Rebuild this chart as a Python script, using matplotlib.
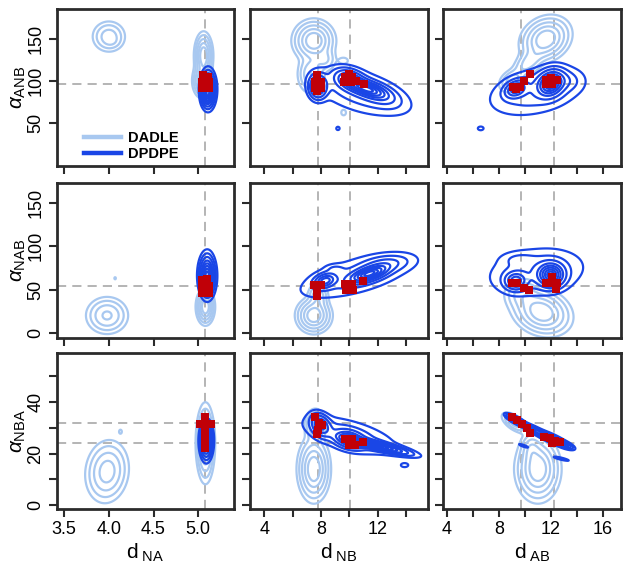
import numpy as np
import matplotlib
matplotlib.use("Agg")
import matplotlib.pyplot as plt
from matplotlib.lines import Line2D

plt.rcParams["font.family"] = ["Liberation Sans", "DejaVu Sans"]
plt.rcParams["mathtext.fontset"] = "custom"
plt.rcParams["mathtext.rm"] = "Liberation Sans"
plt.rcParams["mathtext.it"] = "Liberation Sans:italic"

LIGHT = "#a8c8f0"
DARK = "#1a46e6"
RED = "#c00008"
FRAME = "#2b2b2b"

# -----------------------------------------------------------------------
# axes: columns = distances, rows = angles
# -----------------------------------------------------------------------
x_names = ["NA", "NB", "AB"]
y_names = ["ANB", "NAB", "NBA"]
x_lims = [(3.42, 5.40), (3.0, 15.55), (3.7, 17.4)]
y_lims = [(-2, 186), (-6, 173), (-1.5, 59)]
x_ticks = [[3.5, 4.0, 4.5, 5.0], [4, 6, 8, 10, 12, 14], [4, 6, 8, 10, 12, 14, 16]]
x_ticklabels = [["3.5", "4.0", "4.5", "5.0"], ["4", "", "8", "", "12", ""],
                ["4", "", "8", "", "12", "", "16"]]
y_ticks = [[50, 100, 150], [0, 50, 100, 150], [0, 10, 20, 30, 40, 50]]
y_ticklabels = [["50", "100", "150"], ["0", "50", "100", "150"],
                ["0", "", "20", "", "40", ""]]

# reference (crystal) values
ref_x = [[5.08], [7.8, 10.05], [9.72, 12.25]]
ref_y = [[96.5], [54.5], [31.8, 24.1]]

# -----------------------------------------------------------------------
# density blobs: (cx, cy, sx, sy, rho, peak)
# -----------------------------------------------------------------------
dadle_00 = [(4.0, 153, 0.09, 9, 0, 0.3), (4.03, 147, 0.05, 4, 0, 0.06),
            (5.06, 130, 0.045, 12, 0, 0.8), (5.05, 100, 0.05, 9, 0, 0.7)]
dpdpe_00 = [(5.11, 90, 0.042, 11, 0, 1.0), (5.1, 80, 0.03, 6, 0, 0.3)]
dadle_01 = [(7.5, 148, 0.65, 11, 0, 1.0), (7.3, 108, 0.45, 11, 0, 0.45), (8.3, 125, 0.4, 7, 0, 0.25),
            (9.6, 124, 0.25, 3, 0, 0.1), (9.6, 62, 0.2, 4, 0, 0.07)]
dpdpe_01 = [(7.8, 93, 0.35, 8, 0, 0.8), (10.0, 102, 0.6, 7, -0.3, 0.6), (11.3, 90, 0.9, 7, -0.6, 1.0),
            (10.8, 87, 2.0, 17, -0.5, 0.2), (12.3, 78, 0.9, 8, -0.5, 0.12), (9.2, 43, 0.12, 2, 0, 0.08)]
dadle_02 = [(11.6, 150, 0.85, 12, 0.2, 1.0), (10.3, 122, 0.6, 9, 0.5, 0.35), (9.0, 100, 0.5, 7, 0.3, 0.35)]
dpdpe_02 = [(9.3, 90, 0.5, 6, 0.3, 0.6), (12.0, 97, 0.6, 9, 0.2, 1.0), (10.9, 88, 2.1, 17, 0.35, 0.2),
            (13.3, 100, 0.6, 7, 0, 0.1), (6.6, 43, 0.2, 2, 0, 0.08)]

dadle_10 = [(3.98, 20, 0.11, 10, 0, 0.5), (4.07, 63, 0.01, 1.5, 0, 0.07), (5.08, 30, 0.045, 9, 0, 1.0)]
dpdpe_10 = [(5.1, 66, 0.045, 12, 0, 1.0)]
dadle_11 = [(7.5, 20, 0.55, 9, 0, 1.0), (7.8, 42, 0.35, 8, 0, 0.4)]
dpdpe_11 = [(8.3, 60, 0.45, 5, 0.3, 0.6), (11.4, 68, 0.8, 6, 0.6, 1.0), (12.6, 80, 1.0, 6, 0.3, 0.2),
            (10.4, 65, 2.5, 16, 0.6, 0.15), (9.0, 74, 0.4, 3, 0, 0.08)]
dadle_12 = [(11.3, 24, 1.0, 12, -0.2, 1.0), (9.8, 45, 0.7, 9, 0, 0.3)]
dpdpe_12 = [(9.3, 60, 0.5, 6, 0, 0.6), (12.0, 67, 0.6, 8, 0, 1.0), (10.9, 70, 2.1, 16, 0.2, 0.2),
            (9.5, 85, 0.8, 5, 0, 0.08)]

dadle_20 = [(3.98, 13, 0.11, 5.5, 0.1, 0.6), (4.13, 28.5, 0.012, 0.6, 0, 0.1), (5.08, 24, 0.045, 6.5, 0, 1.0)]
dpdpe_20 = [(5.09, 25, 0.035, 3.5, 0, 1.0)]
dadle_21 = [(7.6, 31, 0.35, 3, 0, 0.5), (7.5, 14, 0.5, 5.5, 0, 1.0)]
dpdpe_21 = [(8.0, 31, 0.4, 2.5, -0.3, 0.5), (10.0, 25.5, 0.6, 2, -0.3, 0.6), (12.0, 23, 1.2, 1.8, -0.85, 0.9),
            (10.0, 27, 2.0, 4.5, -0.6, 0.15), (13.9, 15.5, 0.2, 0.6, 0, 0.08)]
dadle_22 = [(9.2, 32, 0.5, 2, -0.6, 0.35), (11.0, 14, 0.75, 5.5, 0, 1.0), (10.5, 22, 0.4, 3, 0, 0.3)]
dpdpe_22 = [(9.3, 33, 0.4, 1.2, -0.8, 0.6), (10.6, 29.5, 0.5, 1.3, -0.85, 0.6), (12.0, 26, 0.6, 1.5, -0.85, 1.0),
            (13.0, 23.5, 0.4, 1.0, -0.7, 0.4), (9.9, 23, 0.3, 0.6, -0.85, 0.08), (12.8, 18, 0.5, 0.7, -0.85, 0.08)]

# red squares: selected structures
red_00 = [(5.04, 91), (5.12, 91), (5.04, 99), (5.12, 99), (5.05, 107), (5.11, 104), (5.08, 95)]
red_01 = [(7.75, 107), (7.55, 99), (8.0, 99), (7.55, 91), (8.0, 91), (7.75, 88),
          (9.7, 104), (10.2, 104), (9.6, 98), (10.1, 98), (10.5, 100), (10.0, 108), (11.05, 96)]
red_02 = [(10.4, 108), (9.9, 100), (9.1, 93), (9.6, 93), (9.3, 90),
          (11.6, 96), (12.1, 96), (12.5, 101), (12.0, 103), (11.6, 101)]
red_10 = [(5.04, 46), (5.12, 46), (5.04, 54), (5.12, 54), (5.04, 61), (5.1, 62)]
red_11 = [(7.5, 55), (8.0, 55), (7.75, 48), (7.75, 42),
          (9.7, 56), (10.2, 56), (9.8, 50), (10.25, 50), (11.0, 60)]
red_12 = [(9.0, 57), (9.4, 57), (9.9, 52), (10.3, 50),
          (11.6, 58), (12.1, 58), (12.5, 58), (12.1, 64), (12.4, 51)]
red_20 = [(5.08, 22), (5.08, 25), (5.08, 28), (5.08, 31), (5.08, 34), (5.02, 31.5), (5.14, 31.5)]
red_21 = [(7.6, 34), (7.9, 32), (8.1, 31), (7.8, 29), (7.7, 27.5),
          (9.7, 25.5), (10.2, 25.5), (10.0, 23.5), (10.4, 23.5), (10.95, 24.5)]
red_22 = [(9.0, 34), (9.4, 33), (9.8, 31.5), (10.2, 30), (10.4, 28),
          (11.5, 26.5), (11.9, 26), (12.3, 25), (12.7, 24.5), (12.1, 24)]

dadle = [[dadle_00, dadle_01, dadle_02], [dadle_10, dadle_11, dadle_12], [dadle_20, dadle_21, dadle_22]]
dpdpe = [[dpdpe_00, dpdpe_01, dpdpe_02], [dpdpe_10, dpdpe_11, dpdpe_12], [dpdpe_20, dpdpe_21, dpdpe_22]]
red = [[red_00, red_01, red_02], [red_10, red_11, red_12], [red_20, red_21, red_22]]

light_levels = [0.05, 0.12, 0.25, 0.45, 0.7]
dark_levels = [0.04, 0.1, 0.2, 0.35, 0.5, 0.65, 0.8, 0.92]


def blob_field(X, Y, comps):
    Z = np.zeros_like(X)
    for cx, cy, sx, sy, rho, peak in comps:
        dx = (X - cx) / sx
        dy = (Y - cy) / sy
        q = (dx**2 - 2 * rho * dx * dy + dy**2) / (1 - rho**2)
        Z += peak * np.exp(-0.5 * q)
    return Z / Z.max()


W, H = 629, 567
fig = plt.figure(figsize=(W / 100, H / 100), dpi=100)

col_px = [(57, 234), (250, 428), (443, 621)]
row_px = [(9, 166), (183, 338), (353, 509)]

for r in range(3):
    for c in range(3):
        x0, x1 = col_px[c]
        y0, y1 = row_px[r]
        ax = fig.add_axes([x0 / W, 1 - y1 / H, (x1 - x0) / W, (y1 - y0) / H])
        ax.set_xlim(*x_lims[c])
        ax.set_ylim(*y_lims[r])

        for v in ref_x[c]:
            ax.axvline(v, color="#a0a0a0", lw=1.1, ls=(0, (6, 4)), zorder=1)
        for v in ref_y[r]:
            ax.axhline(v, color="#a0a0a0", lw=1.1, ls=(0, (6, 4)), zorder=1)

        xs = np.linspace(*x_lims[c], 400)
        ys = np.linspace(*y_lims[r], 400)
        X, Y = np.meshgrid(xs, ys)
        ax.contour(X, Y, blob_field(X, Y, dadle[r][c]), levels=light_levels,
                   colors=LIGHT, linewidths=1.6, zorder=2)
        ax.contour(X, Y, blob_field(X, Y, dpdpe[r][c]), levels=dark_levels,
                   colors=DARK, linewidths=1.6, zorder=3)

        pts = np.array(red[r][c])
        ax.plot(pts[:, 0], pts[:, 1], "s", color=RED, ms=5.2, mew=0, zorder=4)

        for sp in ax.spines.values():
            sp.set_linewidth(2)
            sp.set_color(FRAME)
        ax.tick_params(direction="out", length=6, width=1.5, color=FRAME,
                       labelsize=13, pad=3)
        ax.set_xticks(x_ticks[c])
        ax.set_yticks(y_ticks[r])
        if r == 2:
            ax.set_xticklabels(x_ticklabels[c])
            ax.set_xlabel(r"$\mathregular{d}_{\ \mathregular{%s}}$" % x_names[c], fontsize=15, labelpad=2)
        else:
            ax.set_xticklabels([])
        if c == 0:
            ax.set_yticklabels(y_ticklabels[r], rotation=90, va="center")
            ax.set_ylabel(r"$\alpha_{\mathregular{%s}}$" % y_names[r], fontsize=15)
            ax.yaxis.set_label_coords(-0.165, 0.5)
        else:
            ax.set_yticklabels([])

        if r == 0 and c == 0:
            handles = [Line2D([], [], color=LIGHT, lw=3.2), Line2D([], [], color=DARK, lw=3.2)]
            leg = ax.legend(handles, ["DADLE", "DPDPE"], loc="lower left",
                            bbox_to_anchor=(0.15, 0.03), frameon=False,
                            prop={"weight": "bold", "size": 10.5},
                            handlelength=2.6, handletextpad=0.45,
                            labelspacing=0.15, borderaxespad=0, borderpad=0)

fig.savefig("out.png", dpi=100)
